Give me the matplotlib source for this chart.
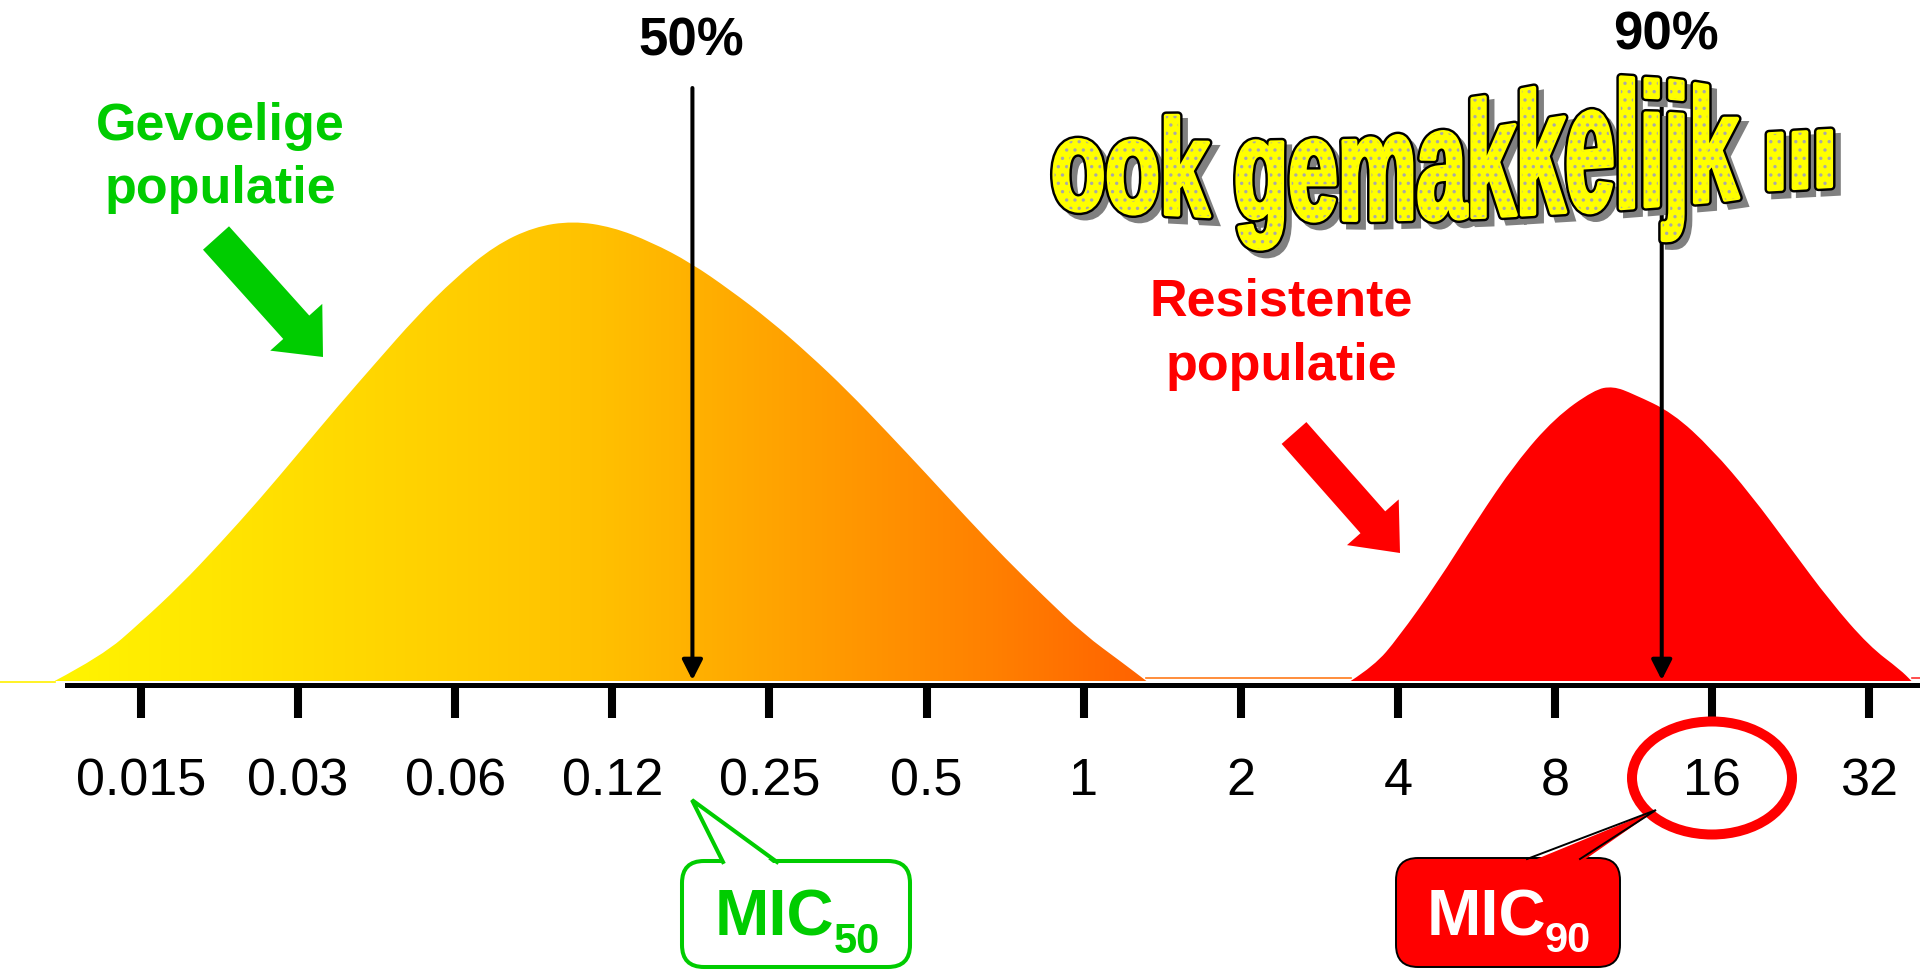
import numpy as np
import matplotlib
matplotlib.use('Agg')
import matplotlib.pyplot as plt
from matplotlib.path import Path
from matplotlib.patches import PathPatch, FancyArrow, FancyBboxPatch, Ellipse, Polygon
from matplotlib.lines import Line2D
from matplotlib.colors import LinearSegmentedColormap
from matplotlib.textpath import TextPath
from matplotlib.font_manager import FontProperties
from matplotlib.transforms import Affine2D

plt.rcParams['font.family'] = ['Liberation Sans', 'DejaVu Sans']
plt.rcParams['hatch.linewidth'] = 1.2

W, H = 1920, 971

# MIC dilution series (mg/L), one tick per doubling step
mic_labels = ['0.015', '0.03', '0.06', '0.12', '0.25', '0.5', '1', '2', '4', '8', '16', '32']
mic_pos = np.arange(len(mic_labels))

# sensitive population (x in dilution steps, height relative to its peak)
sens_x = [-0.55, -0.25, 0.0, 0.25, 0.5, 0.75, 1.0, 1.25, 1.5, 1.75, 2.0, 2.25, 2.5, 2.75,
          3.0, 3.25, 3.5, 3.75, 4.0, 4.25, 4.5, 4.75, 5.0, 5.25, 5.5, 5.75, 6.0, 6.25, 6.4]
sens_y = [0, 5.4, 12.8, 20.8, 29.8, 39.3, 49.4, 59.6, 69.4, 79.1, 87.6, 94.6, 98.7, 100,
          98.7, 95.4, 90.9, 85.0, 78.5, 71.1, 63.0, 54.1, 45.0, 35.7, 26.7, 18.3, 10.2, 3.9, 0]

# resistant population
res_x = [7.7, 7.85, 8.0, 8.25, 8.5, 8.75, 9.0, 9.25, 9.37, 9.5, 9.75, 10.0, 10.25, 10.5,
         10.75, 11.0, 11.2, 11.27]
res_y = [0, 3.3, 9.3, 21.3, 34.8, 47.4, 57.2, 63.3, 64.1, 62.4, 58.3, 50.4, 40.4, 28.9,
         17.4, 7.6, 2.4, 0]

mic50_x = 3.51   # 50 % line
mic90_x = 9.68   # 90 % line

GREEN = '#00CC00'
RED = '#FF0000'

fig = plt.figure(figsize=(W / 100, H / 100), dpi=100)
fig.patch.set_facecolor('white')
ax = fig.add_axes([0, 0, 1, 1])

# pixel layout of the axis
step_px, x0_px = 157.1, 141
unit_px, base_px = 4.6, 681
xlim = (-x0_px / step_px, (W - x0_px) / step_px)
ylim = (-(H - base_px) / unit_px, base_px / unit_px)

# transform for annotation shapes given in pixels from the top-left corner
px = Affine2D().scale(1 / W, -1 / H).translate(0, 1) + fig.transFigure


def smooth_path(xs, ys):
    pts = np.column_stack([xs, ys]).astype(float)
    verts = [pts[0]]
    codes = [Path.MOVETO]
    for i in range(1, len(pts) - 1):
        verts += [pts[i], (pts[i] + pts[i + 1]) / 2]
        codes += [Path.CURVE3, Path.CURVE3]
    verts += [pts[-1], pts[0]]
    codes += [Path.LINETO, Path.CLOSEPOLY]
    return Path(verts, codes)


# sensitive population with yellow -> orange gradient
grad = LinearSegmentedColormap.from_list(
    'sens', [(0, '#FFF500'), (0.5, '#FFC000'), (0.86, '#FF8000'), (1, '#FF6200')])
im = ax.imshow(np.linspace(0, 1, 512)[None, :], extent=[sens_x[0], sens_x[-1], 0, 105],
               aspect='auto', cmap=grad, origin='lower', zorder=2, interpolation='bilinear')
sens_patch = PathPatch(smooth_path(sens_x, sens_y), facecolor='none', edgecolor='none')
ax.add_patch(sens_patch)
im.set_clip_path(sens_patch)

# resistant population
ax.add_patch(PathPatch(smooth_path(res_x, res_y), facecolor=RED, edgecolor='none', zorder=2))

# thin tails along the baseline
ax.plot([xlim[0], sens_x[0]], [-0.2, -0.2], color='#FFF000', lw=1.2, zorder=2)
ax.plot([sens_x[-1], res_x[0]], [0.6, 0.6], color='#FF7A1A', lw=1.2, zorder=2)
ax.plot([res_x[-1], xlim[1]], [0.6, 0.6], color='#FF3030', lw=1.2, zorder=2)

ax.set_xlim(*xlim)
ax.set_ylim(*ylim)

# x axis
for s in ['top', 'left', 'right']:
    ax.spines[s].set_visible(False)
ax.spines['bottom'].set_position(('data', -(684.5 - base_px) / unit_px))
ax.spines['bottom'].set_bounds((67 - x0_px) / step_px, xlim[1])
ax.spines['bottom'].set_linewidth(3.6)
ax.set_xticks(mic_pos, mic_labels)
ax.tick_params(axis='x', direction='out', length=23.4, width=5.8, pad=29,
               labelsize=37.5, colors='black')
ax.set_yticks([])

# 50% / 90% arrows
top_y = (base_px - 88) / unit_px
for xm in (mic50_x, mic90_x):
    ax.annotate('', xy=(xm, 0.2), xytext=(xm, top_y), zorder=5,
                arrowprops=dict(arrowstyle='-|>,head_length=0.61,head_width=0.31',
                                mutation_scale=20, lw=2.9, color='black',
                                shrinkA=0, shrinkB=0))
ax.text(691, 56, '50%', transform=px, ha='center', va='baseline', fontsize=38,
        fontweight='bold', color='black')
ax.text(1666, 49, '90%', transform=px, ha='center', va='baseline', fontsize=38,
        fontweight='bold', color='black')

# population labels + block arrows
ax.text(220, 140, 'Gevoelige', transform=px, ha='center', va='baseline', fontsize=37.5,
        fontweight='bold', color=GREEN)
ax.text(220, 203, 'populatie', transform=px, ha='center', va='baseline', fontsize=37.5,
        fontweight='bold', color=GREEN)
ax.text(1281, 315, 'Resistente', transform=px, ha='center', va='baseline', fontsize=37.5,
        fontweight='bold', color=RED)
ax.text(1281, 380, 'populatie', transform=px, ha='center', va='baseline', fontsize=37.5,
        fontweight='bold', color=RED)
ax.add_artist(FancyArrow(216, 238, 107, 119, width=35, head_width=70, head_length=40,
                         length_includes_head=True, color=GREEN, lw=0, transform=px))
ax.add_artist(FancyArrow(1294, 433, 106, 120, width=33, head_width=69, head_length=41,
                         length_includes_head=True, color=RED, lw=0, transform=px))

# MIC50 callout
ax.add_artist(FancyBboxPatch((682, 861), 228, 106, boxstyle='round,pad=0,rounding_size=22',
                             fc='white', ec=GREEN, lw=2.9, transform=px, zorder=6))
ax.add_artist(Polygon([(723, 866), (692, 800), (777, 866)], closed=True, fc='white',
                      ec='none', transform=px, zorder=7))
ax.add_artist(Line2D([723, 692, 777], [862, 800, 862], color=GREEN, lw=2.9,
                     solid_joinstyle='miter', transform=px, zorder=8))
ax.text(715, 936, 'MIC', transform=px, ha='left', va='baseline', fontsize=47,
        fontweight='bold', color=GREEN, zorder=9)
ax.text(834, 953, '50', transform=px, ha='left', va='baseline', fontsize=30,
        fontweight='bold', color=GREEN, zorder=9)

# MIC90 callout
ax.add_artist(Ellipse((1712, 778), 160, 113, fill=False, ec=RED, lw=7.2, transform=px,
                      zorder=6))
ax.add_artist(FancyBboxPatch((1396, 858), 224, 109, boxstyle='round,pad=0,rounding_size=22',
                             fc=RED, ec='black', lw=1.4, transform=px, zorder=6))
ax.add_artist(Polygon([(1527, 863), (1656, 810), (1580, 863)], closed=True, fc=RED,
                      ec='none', transform=px, zorder=7))
ax.add_artist(Line2D([1527, 1656, 1580], [859, 810, 859], color='black', lw=1.4,
                     solid_joinstyle='miter', transform=px, zorder=8))
ax.text(1427, 935, 'MIC', transform=px, ha='left', va='baseline', fontsize=47,
        fontweight='bold', color='white', zorder=9)
ax.text(1545, 952, '90', transform=px, ha='left', va='baseline', fontsize=30,
        fontweight='bold', color='white', zorder=9)

# word-art "ook gemakkelijk ..." with growing letter height
tp = TextPath((0, 0), 'ook gemakkelijk ...', size=1,
              prop=FontProperties(family='Liberation Sans', weight='bold'))
v = tp.vertices
u = (v[:, 0] - v[:, 0].min()) / (v[:, 0].max() - v[:, 0].min())
wa_u = [0, 0.1, 0.25, 0.4, 0.55, 0.7, 0.8, 0.875, 0.89, 0.905, 1.0]
wa_base = [208, 212, 218, 220, 217, 210, 204, 199, 196, 190, 186]
wa_scale = [127, 132, 142, 150, 164, 185, 170, 150, 150, 370, 370]
X = 1051 + u * 780
Y = np.interp(u, wa_u, wa_base) - v[:, 1] * np.interp(u, wa_u, wa_scale)
art = Path(np.column_stack([X, Y]), tp.codes)
shadow = Path(np.column_stack([X + 6, Y + 6]), tp.codes)
ax.add_artist(PathPatch(shadow, fc='#808080', ec='#808080', lw=5.5, transform=px, zorder=10))
ax.add_artist(PathPatch(art, fc='black', ec='black', lw=6.5, transform=px, zorder=11,
                        capstyle='round', joinstyle='round'))
ax.add_artist(PathPatch(art, fc='#FFFF00', ec='#FFFF00', lw=3.0, transform=px, zorder=12,
                        joinstyle='round'))
ax.add_artist(PathPatch(art, fc='none', ec='#A8A8A8', lw=0, hatch='..', transform=px,
                        zorder=13))

fig.savefig('out.png', dpi=100, facecolor='white')
